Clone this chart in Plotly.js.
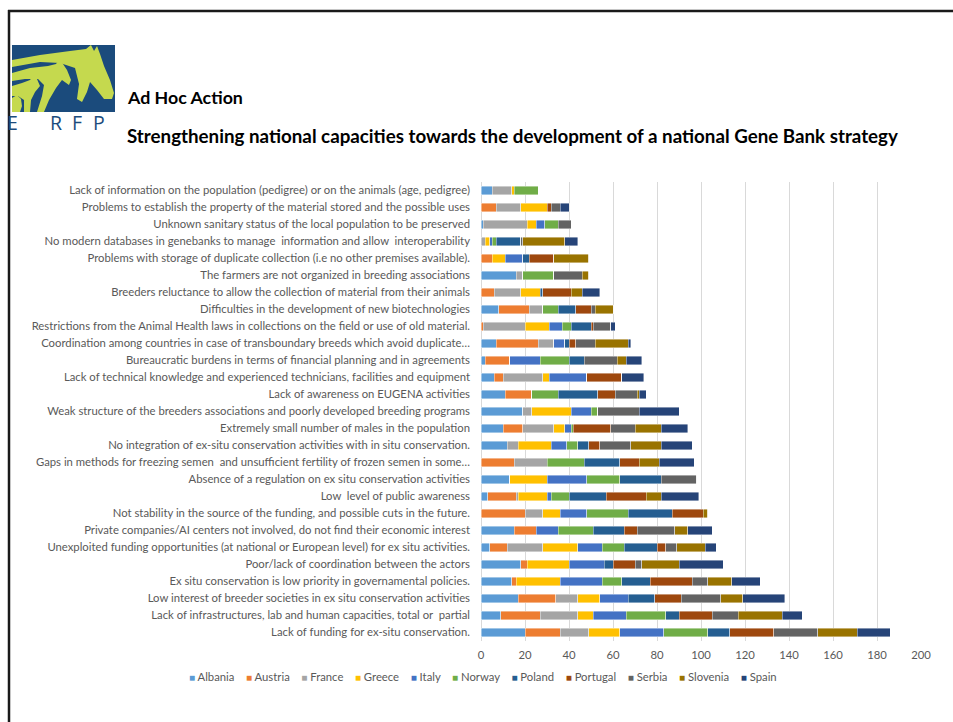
<!DOCTYPE html>
<html><head><meta charset="utf-8">
<script src="https://cdn.plot.ly/plotly-3.0.1.min.js"></script>
<style>html,body{margin:0;padding:0;background:#fff}#chart{width:953px;height:722px}</style>
</head><body><div id="chart"></div>
<script>
// Categories, top to bottom as shown
const categories = [
  "Lack of information on the population (pedigree) or on the animals (age, pedigree)",
  "Problems to establish the property of the material stored and the possible uses",
  "Unknown sanitary status of the local population to be preserved",
  "No modern databases in genebanks to manage  information and allow  interoperability",
  "Problems with storage of duplicate collection (i.e no other premises available).",
  "The farmers are not organized in breeding associations",
  "Breeders reluctance to allow the collection of material from their animals",
  "Difficulties in the development of new biotechnologies",
  "Restrictions from the Animal Health laws in collections on the field or use of old material.",
  "Coordination among countries in case of transboundary breeds which avoid duplicate…",
  "Bureaucratic burdens in terms of financial planning and in agreements",
  "Lack of technical knowledge and experienced technicians, facilities and equipment",
  "Lack of awareness on EUGENA activities",
  "Weak structure of the breeders associations and poorly developed breeding programs",
  "Extremely small number of males in the population",
  "No integration of ex-situ conservation activities with in situ conservation.",
  "Gaps in methods for freezing semen  and unsufficient fertility of frozen semen in some…",
  "Absence of a regulation on ex situ conservation activities",
  "Low  level of public awareness",
  "Not stability in the source of the funding, and possible cuts in the future.",
  "Private companies/AI centers not involved, do not find their economic interest",
  "Unexploited funding opportunities (at national or European level) for ex situ activities.",
  "Poor/lack of coordination between the actors",
  "Ex situ conservation is low priority in governamental policies.",
  "Low interest of breeder societies in ex situ conservation activities",
  "Lack of infrastructures, lab and human capacities, total or  partial",
  "Lack of funding for ex-situ conservation."
];

const countries = ["Albania","Austria","France","Greece","Italy","Norway","Poland","Portugal","Serbia","Slovenia","Spain"];
const colors = ["#5B9BD5","#ED7D31","#A5A5A5","#FFC000","#4472C4","#70AD47","#255E91","#9E480E","#636363","#997300","#264478"];

const albania  = [5,0,1,0,0,16,0,8,0,7,2,6,11,19,10,12,0,13,3,0,15,4,18,14,17,9,20];
const austria  = [0,7,0,0,5,0,6,14,1,19,11,4,12,0,9,0,15,0,13,20,10,8,3,2,17,18,16];
const france   = [9,11,20,2,0,3,12,6,19,7,0,18,0,4,14,5,15,0,1,8,0,16,0,0,10,17,13];
const greece   = [1,12,4,2,6,0,9,0,11,0,0,3,0,18,5,15,0,17,13,8,0,16,19,20,10,7,14];
const italy    = [0,0,4,1,8,0,0,0,6,5,14,17,0,9,3,7,0,18,2,12,10,11,16,19,13,15,20];
const norway   = [11,0,6,2,0,14,0,7,4,0,13,0,12,3,1,5,17,15,8,19,16,10,0,9,0,18,20];
const poland   = [0,0,0,11,3,0,1,8,9,2,7,0,18,0,0,5,16,19,17,20,14,15,4,13,12,6,10];
const portugal = [0,2,0,0,11,0,13,7,1,3,0,16,8,0,17,5,9,0,18,14,6,4,10,19,12,15,20];
const serbia   = [0,4,6,1,0,13,0,2,8,9,15,0,10,19,11,14,0,16,0,0,17,5,3,7,18,12,20];
const slovenia = [0,0,0,19,16,3,5,8,0,15,4,0,1,0,12,14,9,0,7,2,6,13,17,11,10,20,18];
const spain    = [0,4,0,6,0,0,8,0,2,1,7,10,3,18,12,14,16,0,17,0,11,5,20,13,19,9,15];
const seriesValues = [albania,austria,france,greece,italy,norway,poland,portugal,serbia,slovenia,spain];

const xTicks = [0,20,40,60,80,100,120,140,160,180,200];

const titleText = "Ad Hoc Action";
const subtitleText = "Strengthening national capacities towards the development of a national Gene Bank strategy";
const logoText = "ERFP";

// layout geometry (page pixels -> paper)
const W=953,H=722,L=481,R=32,T=182,B=81;
const PW=W-L-R, PH=H-T-B;
const fx = x => (x-L)/PW, fy = y => (H-B-y)/PH;
const poly = pts => 'M' + pts.map(p => fx(p[0]).toFixed(4)+','+fy(p[1]).toFixed(4)).join(' L') + ' Z';

const FONT = 'Lato, "Open Sans", sans-serif';
const GREY = '#595959';

const traces = countries.map((name,i) => ({
  type:'bar', orientation:'h', name:name,
  y:categories, x:seriesValues[i],
  marker:{color:colors[i], line:{color:'rgba(255,255,255,0.7)', width:0.6}},
  hoverinfo:'skip', showlegend:false
}));

const logoGreen = '#C5D94E', logoBlue = '#1B4B7C';
const shapes = [
  // logo
  {type:'rect', xref:'paper', yref:'paper', x0:fx(12), x1:fx(115), y0:fy(45), y1:fy(112), fillcolor:logoBlue, line:{width:0}},
  {type:'path', xref:'paper', yref:'paper', fillcolor:logoGreen, line:{width:0},
   path: poly([[12,60],[40,55],[70,51],[86,49],[91,45],[94,51],[97,46],[100,54],[104,66],[110,80],[114,93],[112,99],[104,99],[97,90],[90,82],[87,92],[82,102],[77,99],[79,84],[75,68],[60,63],[40,62],[12,67]])},
  {type:'path', xref:'paper', yref:'paper', fillcolor:logoGreen, line:{width:0},
   path: poly([[12,73],[30,68],[48,66],[56,64],[60,59],[63,64],[67,70],[71,80],[69,85],[62,80],[56,88],[49,100],[44,112],[37,112],[42,96],[44,85],[38,79],[25,79],[12,81]])},
  {type:'path', xref:'paper', yref:'paper', fillcolor:logoGreen, line:{width:0},
   path: poly([[12,86],[22,83],[30,80],[34,75],[37,79],[40,86],[35,92],[31,100],[30,112],[24,112],[24,100],[18,96],[12,96]])},
  {type:'path', xref:'paper', yref:'paper', fillcolor:logoGreen, line:{width:0},
   path: poly([[12,98],[17,95],[21,99],[22,106],[20,112],[12,112]])}
];

const letterX = [5, 48, 70, 91];
const annotations = [
  {xref:'paper', yref:'paper', x:fx(125), y:fy(97), xanchor:'left', yanchor:'middle', showarrow:false,
   text:'<b>'+titleText+'</b>', font:{family:FONT, size:17.8, color:'#000'}},
  {xref:'paper', yref:'paper', x:fx(125), y:fy(135), xanchor:'left', yanchor:'middle', showarrow:false,
   text:'<b>'+subtitleText+'</b>', font:{family:FONT, size:18.75, color:'#000'}}
].concat(logoText.split('').map((ch,i) => ({
   xref:'paper', yref:'paper', x:fx(letterX[i]), y:fy(123), xanchor:'left', yanchor:'middle', showarrow:false,
   text:ch, font:{family:'"Open Sans", sans-serif', size:19.5, color:logoBlue}
}))).concat([
  // legend row (one entry per series, built from the series names and colours)
  {xref:'paper', yref:'paper', x:fx(483), y:fy(676), xanchor:'center', yanchor:'middle', showarrow:false,
   text: countries.map((c,i) => '<span style="color:'+colors[i]+';font-size:10px">■</span>\u00A0'+c).join('\u00A0\u00A0\u00A0\u00A0'),
   font:{family:FONT, size:11.3, color:GREY}}
]);

// slide frame, drawn as lines over everything
shapes.push(
  {type:'line', xref:'paper', yref:'paper', layer:'above', x0:fx(8), x1:fx(953), y0:fy(11), y1:fy(11), line:{color:'#1a1a1a', width:2.5}},
  {type:'line', xref:'paper', yref:'paper', layer:'above', x0:fx(9), x1:fx(9), y0:fy(10), y1:fy(722), line:{color:'#1a1a1a', width:2.5}}
);

const layout = {
  width:W, height:H,
  margin:{l:L, r:R, t:T, b:B, pad:0},
  paper_bgcolor:'#fff', plot_bgcolor:'#fff',
  barmode:'stack', bargap:0.5,
  font:{family:FONT, size:11, color:GREY},
  xaxis:{range:[0,200], tickvals:xTicks, ticktext:xTicks.map(String), showgrid:true, gridcolor:'#D9D9D9', gridwidth:1,
         zeroline:true, zerolinecolor:'#D9D9D9', zerolinewidth:1, showline:false, ticks:'', ticklabelstandoff:6,
         tickfont:{family:FONT, size:11.3, color:GREY}, fixedrange:true},
  yaxis:{type:'category', categoryorder:'array', categoryarray:categories, autorange:'reversed',
         showgrid:false, zeroline:false, showline:false, ticks:'', ticklabelstandoff:10,
         tickfont:{family:FONT, size:11.3, color:GREY}, fixedrange:true},
  showlegend:false,
  shapes:shapes, annotations:annotations
};

Plotly.newPlot('chart', traces, layout, {displayModeBar:false, staticPlot:true});
</script></body></html>
